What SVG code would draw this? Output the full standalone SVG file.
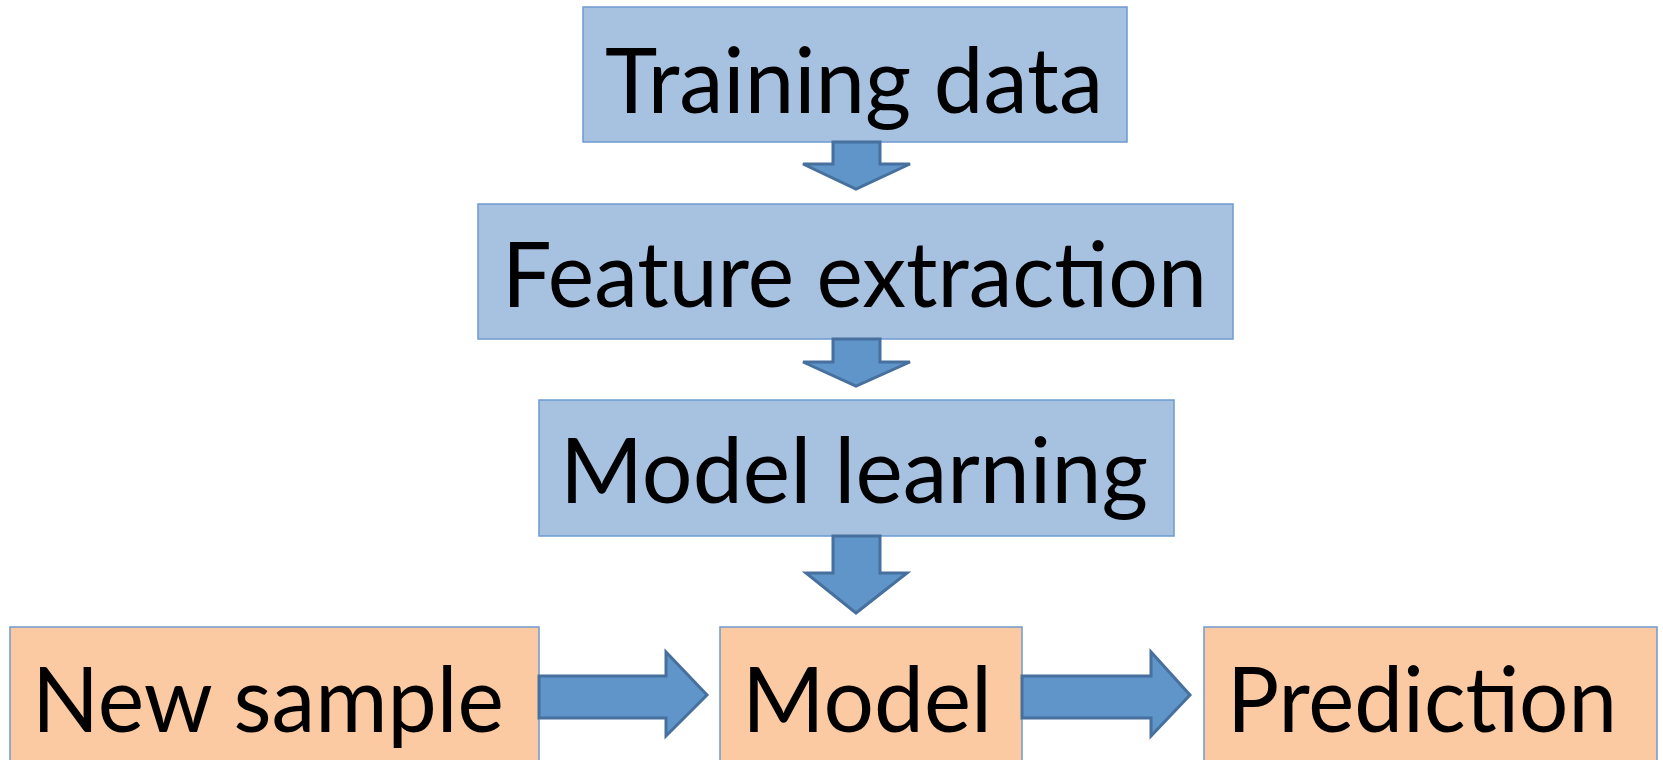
<svg xmlns="http://www.w3.org/2000/svg" width="1663" height="760" viewBox="0 0 1663 760">
<style>
.b{fill:#A7C1E0;stroke:#6E9BD0;stroke-width:1.5}
.o{fill:#FBCAA2;stroke:#6E9BD0;stroke-width:1.5}
.t{font-family:Lato,"Open Sans",sans-serif;font-size:92px;fill:#000;text-anchor:start}
.a{fill:#5F95C9;stroke:#47709E;stroke-width:3;stroke-linejoin:miter}
</style>
<rect width="1663" height="760" fill="#fff"/>
<g id="training">
<rect class="b" x="583" y="7" width="544" height="135"/>
<text class="t" x="605" y="113" textLength="498" lengthAdjust="spacingAndGlyphs">Training data</text>
</g>
<g id="feature">
<rect class="b" x="478" y="204" width="755" height="135"/>
<text class="t" x="502" y="307" textLength="705" lengthAdjust="spacingAndGlyphs">Feature extraction</text>
</g>
<g id="learning">
<rect class="b" x="539" y="400" width="635" height="136"/>
<text class="t" x="560" y="503" textLength="588" lengthAdjust="spacingAndGlyphs">Model learning</text>
</g>
<g id="newsample">
<rect class="o" x="10" y="627" width="529" height="140"/>
<text class="t" x="32" y="732" textLength="472" lengthAdjust="spacingAndGlyphs">New sample</text>
</g>
<g id="model">
<rect class="o" x="720" y="627" width="302" height="140"/>
<text class="t" x="742" y="732" textLength="250" lengthAdjust="spacingAndGlyphs">Model</text>
</g>
<g id="prediction">
<rect class="o" x="1204" y="627" width="453" height="140"/>
<text class="t" x="1227" y="732" textLength="390" lengthAdjust="spacingAndGlyphs">Prediction</text>
</g>
<g id="connectors">
<polygon class="a" points="833,142 880,142 880,164 910,164 856,189 803,164 833,164"/>
<polygon class="a" points="833,339 880,339 880,362 910,362 856,386 803,362 833,362"/>
<polygon class="a" points="833,536 880,536 880,573 907,573 856,613 806,573 833,573"/>
<polygon class="a" points="539,676 666,676 666,652 707,695 666,736 666,718 539,718"/>
<polygon class="a" points="1022,676 1151,676 1151,652 1190,695 1151,736 1151,718 1022,718"/>
</g>
</svg>
